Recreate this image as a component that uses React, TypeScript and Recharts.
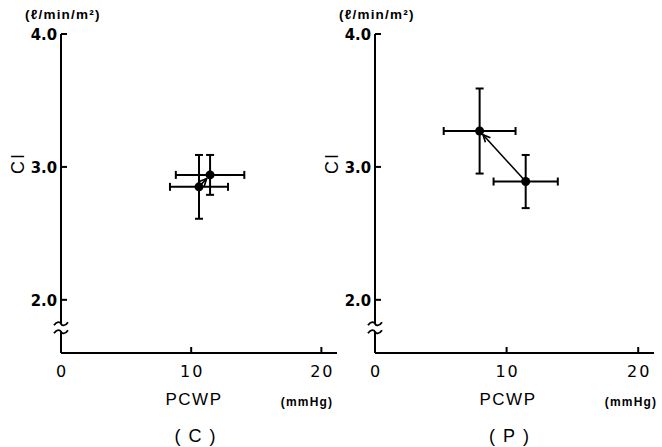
import React from "react";
import {
  ScatterChart,
  Scatter,
  XAxis,
  YAxis,
  ErrorBar,
  ReferenceLine,
  ReferenceDot,
  Label,
} from "recharts";

const xTicks = [0, 10, 20];
const yTicks = [2.0, 3.0, 4.0];
const xDomain = [0, 21.2];
const yDomain = [1.6, 4.0];
const yBreak = 1.79;

// (C) group: first -> second
const cPcwp = [10.6, 11.45];
const cPcwpSd = [2.23, 2.63];
const cCi = [2.85, 2.94];
const cCiSd = [0.24, 0.15];

// (P) group: first -> second
const pPcwp = [11.45, 7.95];
const pPcwpSd = [2.44, 2.73];
const pCi = [2.89, 3.27];
const pCiSd = [0.2, 0.32];

const sans = "'Liberation Sans', Arial, sans-serif";
const narrow = "'Liberation Sans Narrow', 'DejaVu Sans Condensed', sans-serif";

// plot box inside each panel
const M = { top: 34, right: 8, left: 60, bottom: 93 };
const AXIS_X = M.left + 1;

function build(px: number[], pxSd: number[], ci: number[], ciSd: number[]) {
  return px.map((v, i) => ({ x: v, y: ci[i], ex: pxSd[i], ey: ciSd[i] }));
}

const YTick = (props: any) => {
  const { x, y, payload } = props;
  return (
    <g>
      <line x1={x} y1={y} x2={x + 6} y2={y} stroke="#000" strokeWidth={2} />
      <text
        x={x - 4}
        y={y + 6}
        textAnchor="end"
        fontFamily={narrow}
        fontWeight="bold"
        fontSize={16.5}
        fill="#000"
      >
        {Number(payload.value).toFixed(1)}
      </text>
    </g>
  );
};

const XTick = (props: any) => {
  const { x, y, payload } = props;
  return (
    <g>
      {payload.value !== 0 && (
        <line x1={x} y1={y} x2={x} y2={y - 6} stroke="#000" strokeWidth={2} />
      )}
      <text
        x={x + 1}
        y={y + 24}
        textAnchor="middle"
        fontFamily="'DejaVu Sans', sans-serif"
        fontSize={16}
        letterSpacing={2}
        fill="#000"
      >
        {payload.value}
      </text>
    </g>
  );
};

const Arrow = (props: any) => {
  const { x1, y1, x2, y2 } = props;
  const dx = x2 - x1;
  const dy = y2 - y1;
  const len = Math.sqrt(dx * dx + dy * dy) || 1;
  const ux = dx / len;
  const uy = dy / len;
  const ex = x2 - ux * 5;
  const ey = y2 - uy * 5;
  const sx = x1 + ux * 3;
  const sy = y1 + uy * 3;
  const a = (25 * Math.PI) / 180;
  const h = 8;
  const l1x = ex - h * (ux * Math.cos(a) - uy * Math.sin(a));
  const l1y = ey - h * (uy * Math.cos(a) + ux * Math.sin(a));
  const l2x = ex - h * (ux * Math.cos(a) + uy * Math.sin(a));
  const l2y = ey - h * (uy * Math.cos(a) - ux * Math.sin(a));
  return (
    <g stroke="#000" strokeWidth={1.6} fill="none">
      <line x1={sx} y1={sy} x2={ex} y2={ey} />
      <polyline points={`${l1x},${l1y} ${ex},${ey} ${l2x},${l2y}`} />
    </g>
  );
};

const AxisBreak = (props: any) => {
  const { cx, cy } = props;
  const wave = (y: number) =>
    `M ${cx - 7} ${y + 1.5} C ${cx - 4} ${y - 3}, ${cx - 1} ${y - 2}, ${cx} ${y} S ${cx + 4} ${y + 3}, ${cx + 7} ${y - 1.5}`;
  return (
    <g>
      <rect x={cx - 4} y={cy - 4} width={8} height={8} fill="#fff" />
      <path d={wave(cy - 4)} stroke="#000" strokeWidth={1.8} fill="none" />
      <path d={wave(cy + 4)} stroke="#000" strokeWidth={1.8} fill="none" />
    </g>
  );
};

interface PanelProps {
  data: Array<{ x: number; y: number; ex: number; ey: number }>;
  caption: string;
  width: number;
  left: number;
  unitX: number;
}

function Panel({ data, caption, width, left, unitX }: PanelProps) {
  return (
    <div style={{ position: "absolute", left, top: 0 }}>
      <ScatterChart width={width} height={447} margin={M}>
        <XAxis
          type="number"
          dataKey="x"
          domain={xDomain}
          ticks={xTicks}
          allowDataOverflow
          height={1}
          tickSize={0}
          tickMargin={0}
          tickLine={false}
          axisLine={{ stroke: "#000", strokeWidth: 2 }}
          tick={<XTick />}
        >
          <Label
            content={() => {
              const base = 447 - M.bottom;
              return (
                <g fill="#000">
                  <text
                    x={AXIS_X + 133}
                    y={base + 51}
                    textAnchor="middle"
                    fontFamily={sans}
                    fontSize={17}
                    letterSpacing={1.5}
                  >
                    PCWP
                  </text>
                  <text
                    x={AXIS_X + unitX}
                    y={base + 52}
                    textAnchor="middle"
                    fontFamily={sans}
                    fontWeight="bold"
                    fontSize={12}
                    letterSpacing={1.2}
                  >
                    (mmHg)
                  </text>
                  <text
                    x={AXIS_X + 138}
                    y={base + 88}
                    textAnchor="middle"
                    fontFamily={sans}
                    fontSize={18}
                    letterSpacing={8}
                  >
                    {caption}
                  </text>
                </g>
              );
            }}
          />
        </XAxis>
        <YAxis
          type="number"
          dataKey="y"
          domain={yDomain}
          ticks={yTicks}
          allowDataOverflow
          width={1}
          tickSize={0}
          tickMargin={0}
          tickLine={false}
          axisLine={{ stroke: "#000", strokeWidth: 2 }}
          tick={<YTick />}
        >
          <Label
            content={() => (
              <g fill="#000">
                <text
                  x={AXIS_X - 36}
                  y={M.top - 15}
                  textAnchor="start"
                  fontFamily={sans}
                  fontWeight="bold"
                  fontSize={13.5}
                  letterSpacing={1.2}
                >
                  (ℓ/min/m²)
                </text>
                <text
                  x={AXIS_X - 43}
                  y={M.top + 129}
                  textAnchor="middle"
                  dominantBaseline="central"
                  fontFamily={sans}
                  fontSize={18}
                  letterSpacing={2}
                  transform={`rotate(-90 ${AXIS_X - 43} ${M.top + 129})`}
                >
                  CI
                </text>
              </g>
            )}
          />
        </YAxis>
        <ReferenceLine
          segment={[
            { x: data[0].x, y: data[0].y },
            { x: data[1].x, y: data[1].y },
          ]}
          shape={<Arrow />}
        />
        <Scatter
          data={data}
          isAnimationActive={false}
          shape={(p: any) => <circle cx={p.cx} cy={p.cy} r={4.5} fill="#000" />}
        >
          <ErrorBar dataKey="ex" direction="x" width={4} stroke="#000" strokeWidth={2} />
          <ErrorBar dataKey="ey" direction="y" width={4} stroke="#000" strokeWidth={2} />
        </Scatter>
        <ReferenceDot x={0} y={yBreak} ifOverflow="visible" shape={<AxisBreak />} />
      </ScatterChart>
    </div>
  );
}

export default function App() {
  const cData = build(cPcwp, cPcwpSd, cCi, cCiSd);
  const pData = build(pPcwp, pPcwpSd, pCi, pCiSd);
  return (
    <div
      style={{
        position: "absolute",
        left: 0,
        top: 0,
        width: 662,
        height: 447,
        background: "#fff",
        overflow: "hidden",
      }}
    >
      <Panel data={cData} caption="(C)" width={345} left={0} unitX={246} />
      <Panel data={pData} caption="(P)" width={348} left={314} unitX={256} />
    </div>
  );
}
